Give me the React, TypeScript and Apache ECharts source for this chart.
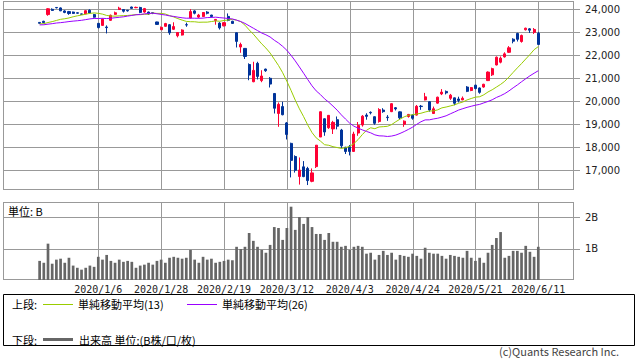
import React, { useEffect, useRef } from "react";
import * as echarts from "echarts";

// ---- data ----
const dates = [
  "2019/12/11","2019/12/12","2019/12/13","2019/12/16","2019/12/17","2019/12/18","2019/12/19","2019/12/20","2019/12/23","2019/12/24","2019/12/25","2019/12/26","2019/12/27","2019/12/30",
  "2020/1/6","2020/1/7","2020/1/8","2020/1/9","2020/1/10","2020/1/14","2020/1/15","2020/1/16","2020/1/17","2020/1/20","2020/1/21","2020/1/22","2020/1/23","2020/1/24","2020/1/27","2020/1/28",
  "2020/1/29","2020/1/30","2020/1/31","2020/2/3","2020/2/4","2020/2/5","2020/2/6","2020/2/7","2020/2/10","2020/2/12","2020/2/13","2020/2/14","2020/2/17","2020/2/18","2020/2/19",
  "2020/2/20","2020/2/21","2020/2/25","2020/2/26","2020/2/27","2020/2/28","2020/3/2","2020/3/3","2020/3/4","2020/3/5","2020/3/6","2020/3/9","2020/3/10","2020/3/11","2020/3/12",
  "2020/3/13","2020/3/16","2020/3/17","2020/3/18","2020/3/19","2020/3/23","2020/3/24","2020/3/25","2020/3/26","2020/3/27","2020/3/30","2020/3/31","2020/4/1","2020/4/2","2020/4/3",
  "2020/4/6","2020/4/7","2020/4/8","2020/4/9","2020/4/10","2020/4/13","2020/4/14","2020/4/15","2020/4/16","2020/4/17","2020/4/20","2020/4/21","2020/4/22","2020/4/23","2020/4/24",
  "2020/4/27","2020/4/28","2020/4/30","2020/5/1","2020/5/7","2020/5/8","2020/5/11","2020/5/12","2020/5/13","2020/5/14","2020/5/15","2020/5/18","2020/5/19","2020/5/20","2020/5/21",
  "2020/5/22","2020/5/25","2020/5/26","2020/5/27","2020/5/28","2020/5/29","2020/6/1","2020/6/2","2020/6/3","2020/6/4","2020/6/5","2020/6/8","2020/6/9","2020/6/10","2020/6/11",
];

const opens = [
  23430,23480,23770,24000,24080,24060,23930,23900,23880,23850,23800,23800,23960,23770,
  23390,23300,23230,23520,23780,23990,23990,23960,24100,24070,24080,23880,23880,23850,23450,23110,
  23260,23330,23130,22850,22880,23330,23620,23930,23660,23690,23880,23750,23510,23400,23280,
  23690,23480,22980,22360,22300,21600,20850,21650,20900,21400,21000,20340,19470,19770,19060,
  18170,17600,16730,17150,17080,16520,17160,18446,19240,18850,18800,19200,18750,18000,18020,
  17820,18620,18970,19400,19520,19330,19120,19620,19310,19550,19720,19540,19000,19340,19400,
  19400,19790,20060,19980,19470,19920,20320,20430,20130,20150,20100,20060,20620,20470,20700,
  20580,20620,20900,21150,21580,21700,21930,22130,22700,22950,22600,23110,23150,23000,22960,
];

const closes = [
  23392,23425,24023,23952,24066,23934,23865,23816,23821,23830,23782,23940,23837,23656,
  23204,23575,23204,23740,23850,24050,23916,23933,24041,24085,23864,24031,23795,23827,23343,23215,
  23379,22977,23250,22990,23100,23319,23900,23827,23750,23861,23827,23687,23560,23193,23420,
  23520,23386,22605,22470,21948,21142,21344,21082,21100,21329,20749,19698,19867,19416,18559,
  17431,17002,17011,16726,16552,16887,18092,19546,18664,19389,19084,18917,18065,17818,17820,
  18576,18950,19353,19345,19498,19043,19638,19550,19290,19897,19669,19280,19137,19429,19262,
  19783,19771,20193,19619,19674,20179,20400,20366,20267,19914,20037,20133,20433,20595,20552,
  20388,20741,21271,21419,21916,21877,22062,22325,22613,22695,22863,23178,23091,23124,22472,
];

const lows = [
  23370,23390,23720,23930,24040,23920,23830,23760,23800,23810,23770,23790,23820,23640,
  23170,23280,22951,23500,23760,23970,23860,23900,24020,24050,23830,23850,23760,23790,23320,23100,
  23240,22890,23100,22780,22860,23240,23600,23780,23620,23670,23780,23640,23330,23120,23260,
  23480,23370,22340,22110,21840,20916,20830,20950,20830,21280,20600,19470,18891,19390,18340,
  16690,16900,16378,16700,16358,16480,17100,18446,18500,18800,18578,18780,17960,17707,17646,
  17800,18500,18900,19200,19430,18980,19070,19500,19150,19530,19600,19200,18890,19290,19200,
  19380,19630,20040,19550,19450,19900,20270,20300,20060,19830,19950,20050,20400,20440,20520,
  20330,20590,20880,21100,21560,21650,21900,22100,22520,22600,22550,23080,22970,22930,22450,
];

const highs = [
  23440,23500,24050,24040,24091,24080,23960,23930,23900,23860,23810,23960,24000,23800,
  23400,23600,23300,23770,23900,24110,24010,23970,24115,24115,24110,24060,23900,23870,23460,23250,
  23410,23360,23435,23010,23130,23420,24010,23960,23800,23880,23920,23760,23580,23440,23440,
  23820,23500,22990,22550,22310,21650,21719,21719,21350,21420,21050,20350,19950,19980,19100,
  18200,17650,17557,17400,17150,17080,18100,19564,19260,19400,19150,19340,18800,18020,18100,
  18676,19100,19400,19480,19560,19340,19700,19700,19400,19920,19750,19560,19170,19450,19430,
  19840,19840,20365,20000,19770,20200,20530,20470,20320,20160,20200,20210,20660,20620,20720,
  20600,20760,21300,21460,21950,21950,22130,22400,22740,22980,22900,23200,23185,23185,23020,
];

// volume in billions (B)
const volumes = [
  0.61,0.55,1.16,0.52,0.65,0.68,0.55,0.71,0.46,0.39,0.33,0.39,0.46,0.42,
  0.74,0.65,0.80,0.61,0.55,0.65,0.58,0.61,0.58,0.39,0.46,0.49,0.55,0.49,0.61,0.65,
  0.55,0.71,0.74,0.71,0.68,0.71,0.96,0.65,0.55,0.74,0.65,0.68,0.55,0.58,0.61,
  0.65,0.63,1.06,0.99,1.06,1.50,1.25,1.06,0.96,0.87,1.12,1.69,1.66,1.28,1.66,
  2.34,1.60,2.01,1.79,2.01,1.69,1.47,1.47,1.28,1.50,1.22,1.22,1.06,1.09,0.96,
  1.06,1.09,1.06,0.84,0.87,0.65,0.80,0.93,0.80,0.87,0.65,0.80,0.77,0.74,0.84,
  0.77,0.68,1.03,0.87,0.84,0.84,0.77,0.68,0.80,0.77,0.74,0.71,0.93,0.71,0.61,
  0.71,0.55,0.87,1.12,1.34,1.53,0.71,0.77,0.93,0.93,0.87,1.09,0.90,0.74,1.06,
];

// closes before the visible window (needed for the 13/26-day moving averages)
const priorCloses = [
  23252,23304,23330,23392,23332,23520,23320,23142,23303,23417,23293,23149,23039,
  23113,23293,23373,23438,23409,23294,23530,23380,23135,23300,23354,23431,23410,
];

const xTickLabels = ["2020/1/6","2020/1/28","2020/2/19","2020/3/12","2020/4/3","2020/4/24","2020/5/21","2020/6/11"];
const priceTicks = [17000,18000,19000,20000,21000,22000,23000,24000];
const volumeTicks = [1, 2];

// ---- helpers ----
const X_MIN = -8.74;
const X_MAX = 127.52;
const P_MIN = 16143;
const P_MAX = 24361;
const V_MAX = 2.49;
const JP = '"Noto Sans CJK JP", sans-serif';
const GRID = "#999999";

function sma(n: number) {
  const all = priorCloses.concat(closes);
  const off = priorCloses.length;
  return closes.map((_, i) => {
    let s = 0;
    for (let k = off + i - n + 1; k <= off + i; k++) s += all[k];
    return [i, s / n];
  });
}

function fmtThousands(v: number) {
  return String(Math.round(v)).replace(/\B(?=(\d{3})+(?!\d))/g, ",");
}

export default function App() {
  const ref = useRef<HTMLDivElement>(null);

  useEffect(() => {
    if (!ref.current) return;
    const chart = echarts.init(ref.current, null, { renderer: "svg" });
    const xTickIdx = xTickLabels.map((d) => dates.indexOf(d));
    const candleData = dates.map((_, i) => [i, opens[i], closes[i], lows[i], highs[i]]);
    const volData = volumes.map((v, i) => [i, v]);

    const xAxisBase = {
      type: "value",
      min: X_MIN,
      max: X_MAX,
      axisLine: { show: false },
      axisTick: { show: false },
      splitLine: { show: false },
    };

    const yLabel = { fontFamily: "DejaVu Sans", fontSize: 10, color: "#222", margin: 11 };

    chart.setOption({
      animation: false,
      backgroundColor: "#ffffff",
      grid: [
        { left: 3, top: 1, width: 571, height: 189, show: false },
        { left: 3, top: 202, width: 571, height: 78, show: false },
      ],
      xAxis: [
        { ...xAxisBase, gridIndex: 0, axisLabel: { show: false } },
        {
          ...xAxisBase,
          gridIndex: 1,
          axisLabel: {
            show: true,
            customValues: xTickIdx,
            formatter: (v: number) => dates[Math.round(v)] || "",
            fontFamily: "DejaVu Sans Mono",
            fontSize: 10,
            color: "#222",
            margin: 4,
          },
        },
      ],
      yAxis: [
        {
          type: "value",
          gridIndex: 0,
          position: "right",
          min: P_MIN,
          max: P_MAX,
          axisLine: { show: false },
          axisTick: { show: false },
          splitLine: { show: false },
          axisLabel: { ...yLabel, customValues: priceTicks, formatter: (v: number) => fmtThousands(v) },
        },
        {
          type: "value",
          gridIndex: 1,
          position: "right",
          min: 0,
          max: V_MAX,
          axisLine: { show: false },
          axisTick: { show: false },
          splitLine: { show: false },
          axisLabel: { ...yLabel, customValues: volumeTicks, formatter: (v: number) => `${v}B` },
        },
      ],
      series: [
        {
          type: "candlestick",
          xAxisIndex: 0,
          yAxisIndex: 0,
          z: 30,
          data: candleData,
          encode: { x: 0, y: [1, 2, 3, 4] },
          barWidth: 2.6,
          itemStyle: {
            color: "#ff0033",
            color0: "#003399",
            borderColor: "#ff0033",
            borderColor0: "#003399",
            borderWidth: 1,
          },
        },
        {
          type: "line",
          xAxisIndex: 0,
          yAxisIndex: 0,
          z: 31,
          data: sma(13),
          symbol: "none",
          lineStyle: { color: "#99cc00", width: 1 },
          itemStyle: { color: "#99cc00" },
        },
        {
          type: "line",
          xAxisIndex: 0,
          yAxisIndex: 0,
          z: 31,
          data: sma(26),
          symbol: "none",
          lineStyle: { color: "#9900ff", width: 1 },
          itemStyle: { color: "#9900ff" },
        },
        {
          type: "bar",
          xAxisIndex: 1,
          yAxisIndex: 1,
          z: 30,
          data: volData,
          barWidth: 2.7,
          itemStyle: { color: "#666666" },
        },
      ],
    });

    // grid lines (as 1px filled strips), ticks and pane borders, positioned through the axes' own scales
    const px = (g: number, x: number, y: number) =>
      chart.convertToPixel({ xAxisIndex: g, yAxisIndex: g }, [x, y]) as number[];
    const gridEls: any[] = [];
    const panes = [
      { g: 0, yMin: P_MIN, yMax: P_MAX, ticks: priceTicks },
      { g: 1, yMin: 0, yMax: V_MAX, ticks: volumeTicks },
    ];
    panes.forEach(({ g, yMin, yMax, ticks }) => {
      const tl = px(g, X_MIN, yMax);
      const br = px(g, X_MAX, yMin);
      const left = Math.round(tl[0]);
      const right = Math.round(br[0]);
      const top = Math.round(tl[1]);
      const bottom = Math.round(br[1]);
      const strip = (x: number, y: number, w: number, h: number) =>
        gridEls.push({ type: "rect", z: 1, silent: true, shape: { x, y, width: w, height: h }, style: { fill: GRID } });
      // vertical grid lines
      xTickIdx.forEach((x) => strip(Math.round(px(g, x, yMin)[0]), top, 1, bottom - top));
      // horizontal grid lines + outward ticks
      ticks.forEach((t) => strip(left, Math.round(px(g, X_MIN, t)[1]), right - left + 6, 1));
      // border
      strip(left, top, right - left, 1);
      strip(left, bottom - 1, right - left, 1);
      strip(left, top, 1, bottom - top);
      strip(right - 1, top, 1, bottom - top);
    });

    const textEls: any[] = [
      { type: "text", x: 8, y: 210.5, style: { text: "単位: B", fontFamily: JP, fontSize: 11, fill: "#000", verticalAlign: "middle" } },
      { type: "rect", shape: { x: 3.5, y: 294.5, width: 631, height: 51 }, style: { fill: "rgba(0,0,0,0)", stroke: "#000", lineWidth: 1 } },
      { type: "text", x: 12, y: 304, style: { text: "上段:", fontFamily: JP, fontSize: 11, fill: "#000", verticalAlign: "middle" } },
      { type: "line", shape: { x1: 43, y1: 304.5, x2: 73, y2: 304.5 }, style: { stroke: "#99cc00", lineWidth: 1 } },
      { type: "text", x: 78, y: 304, style: { text: "単純移動平均(13)", fontFamily: JP, fontSize: 11, fill: "#000", verticalAlign: "middle" } },
      { type: "line", shape: { x1: 187, y1: 304.5, x2: 217, y2: 304.5 }, style: { stroke: "#9900ff", lineWidth: 1 } },
      { type: "text", x: 222, y: 304, style: { text: "単純移動平均(26)", fontFamily: JP, fontSize: 11, fill: "#000", verticalAlign: "middle" } },
      { type: "text", x: 12, y: 339.5, style: { text: "下段:", fontFamily: JP, fontSize: 11, fill: "#000", verticalAlign: "middle" } },
      { type: "line", shape: { x1: 43, y1: 339.5, x2: 73, y2: 339.5 }, style: { stroke: "#666666", lineWidth: 3 } },
      { type: "text", x: 79, y: 339.5, style: { text: "出来高 単位:(B株/口/枚)", fontFamily: JP, fontSize: 11, fill: "#000", verticalAlign: "middle" } },
      { type: "text", x: 499, y: 351, style: { text: "(c)Quants Research Inc.", fontFamily: JP, fontSize: 11, fill: "#444", verticalAlign: "middle" } },
    ];

    chart.setOption({ graphic: { elements: gridEls.concat(textEls) } });

    return () => chart.dispose();
  }, []);

  return (
    <div
      ref={ref}
      style={{ position: "fixed", left: 0, top: 0, width: 638, height: 362, background: "#fff" }}
    />
  );
}
